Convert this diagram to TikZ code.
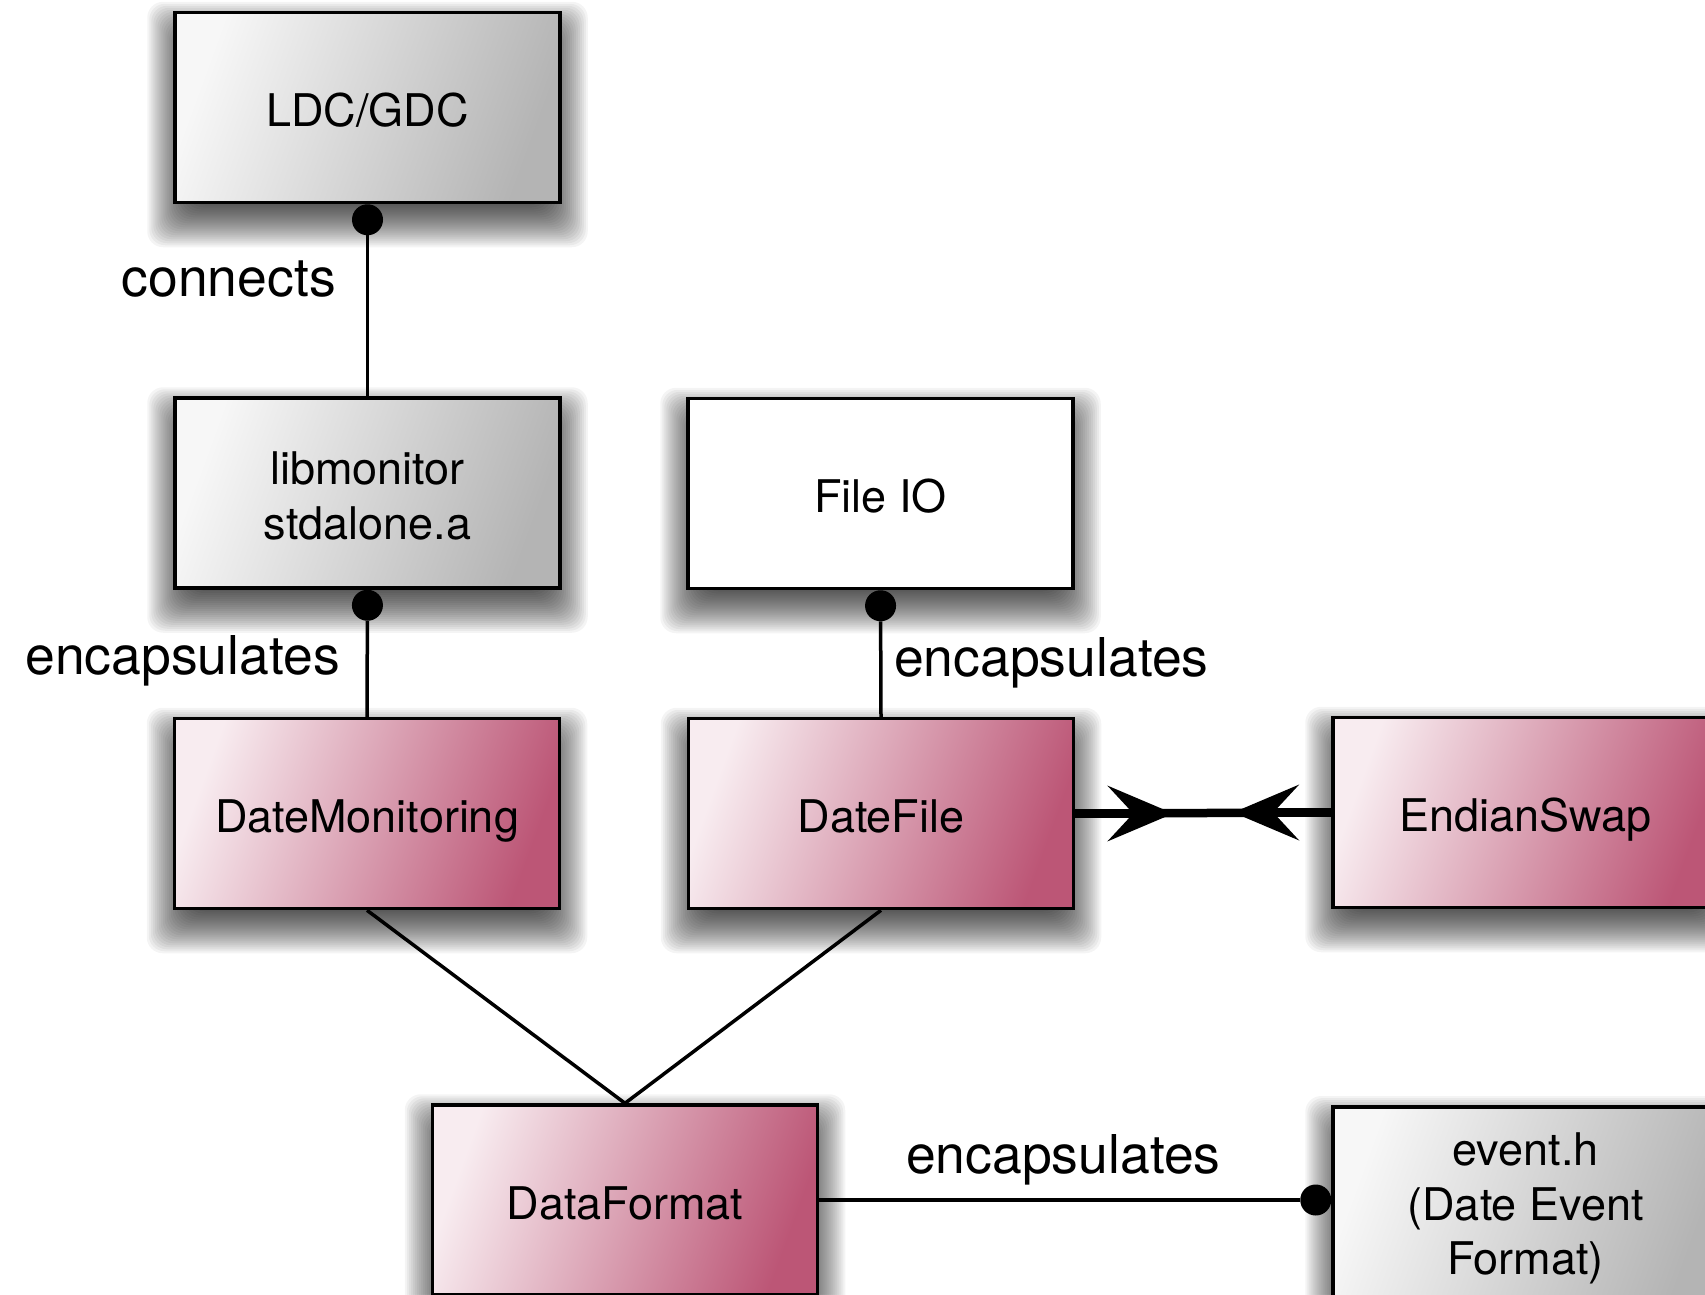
\documentclass[tikz,border=0pt]{standalone}
\usepackage{fontspec}
\setmainfont{TeX Gyre Heros}
\usetikzlibrary{arrows.meta,calc,backgrounds}
\definecolor{pinkL}{RGB}{248,236,240}
\definecolor{pinkD}{RGB}{188,86,118}
\definecolor{grayL}{RGB}{247,247,247}
\definecolor{grayD}{RGB}{180,180,180}
\tikzset{
  ballend/.tip={Circle[length=31pt, line width=0pt]},
  barbend/.tip={Stealth[length=66pt, width=56pt, inset=26pt, line width=0pt]}
}
\begin{document}
\begin{tikzpicture}[x=1pt,y=-1pt,
  box/.style={draw=black, line width=3.5pt, minimum width=385pt, minimum height=190pt,
    inner sep=0pt, align=center, font=\fontsize{45}{54.5}\selectfont},
  oneline/.style={text height=38.6pt, text depth=0pt},
  pinkbox/.style={box, shading=axis, top color=pinkL, bottom color=pinkD, shading angle=70},
  graybox/.style={box, shading=axis, top color=grayL, bottom color=grayD, shading angle=70},
  whitebox/.style={box, fill=white},
  shadowlayer/.style={fill=black, opacity=0.042, rounded corners=16pt},
  conn/.style={draw=black, line width=3.5pt},
  thickline/.style={draw=black, line width=8.5pt},
  lbl/.style={inner sep=0pt, font=\fontsize{53.5}{64}\selectfont}]
  \useasboundingbox (0,0) rectangle (1705,1294);

  % component boxes
  \node[graybox, oneline]  (ldc)   at (367.5,107.5) {LDC/GDC};
  \node[graybox]           (lib)   at (367.5,493)   {\rule{0pt}{39pt}libmonitor\\stdalone.a};
  \node[whitebox, oneline] (fio)   at (880.5,493.5) {File IO};
  \node[pinkbox, oneline]  (dmon)  at (367,813.5)   {DateMonitoring};
  \node[pinkbox, oneline]  (dfile) at (881,813.5)   {DateFile};
  \node[pinkbox, oneline]  (eswap) at (1525.5,812.5) {EndianSwap};
  \node[pinkbox, oneline]  (dfmt)  at (625,1200)    {DataFormat};
  \node[graybox, minimum height=204pt, anchor=north] (evt) at (1525.5,1105)
       {event.h\\(Date Event\\Format)};

  % soft drop shadows: stacked translucent rectangles below each box
  \begin{pgfonlayer}{background}
    \fill[white] (0,0) rectangle (1705,1294);
    \foreach \n in {ldc,lib,fio,dmon,dfile,eswap,dfmt,evt}{
      \foreach \d in {-24,-22,...,26}{
        \fill[shadowlayer] ($(\n.north west)+(-\d,-\d+17)$) rectangle ($(\n.south east)+(\d,\d+17)$);
      }
    }
  \end{pgfonlayer}

  % relations
  \draw[conn, {ballend}-] (ldc.south) -- (lib.north);
  \draw[conn, {ballend}-] (lib.south) -- (dmon.north);
  \draw[conn, {ballend}-] (fio.south) -- (dfile.north);
  \draw[conn] (dmon.south) -- (dfmt.north);
  \draw[conn] (dfile.south) -- (dfmt.north);
  \draw[conn, -{ballend}] (dfmt.east) -- (dfmt.east -| evt.west);

  % byte-order link between DateFile and EndianSwap
  \coordinate (tipA) at ($(dfile.east)+(98,0)$);
  \coordinate (tipB) at ($(eswap.west)+(-98,0)$);
  \draw[thickline] (dfile.east) -- (eswap.west);
  \draw[thickline, -{barbend}] (dfile.east) -- (tipA);
  \draw[thickline, -{barbend}] (eswap.west) -- (tipB);

  % relation labels
  \node[lbl, anchor=base east] (lconn) at (336,296) {connects};
  \node[lbl, anchor=base east] (lenc1) at (340,674) {encapsulates};
  \node[lbl, anchor=base west] (lenc2) at (894,676) {encapsulates};
  \node[lbl, anchor=base west] (lenc3) at (906,1173) {encapsulates};
\end{tikzpicture}
\end{document}
